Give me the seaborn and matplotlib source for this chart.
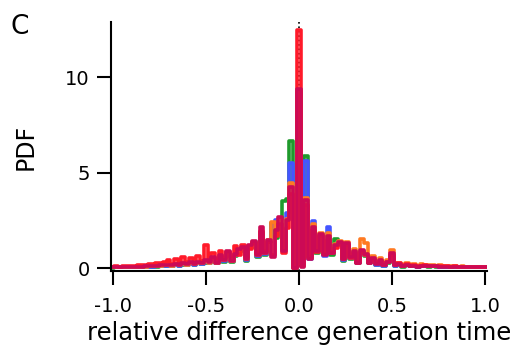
import numpy as np
import pandas as pd
import matplotlib
matplotlib.use("Agg")
import matplotlib.pyplot as plt
import seaborn as sns

# bin centres of the histogram (step 0.02)
bin_centers = np.round(np.arange(-1.0, 1.0001, 0.02), 2)

# PDF values, one list per curve (drawn bottom -> top)
pdf_green = [
    0.03, 0.04, 0.04, 0.05, 0.05, 0.05, 0.06, 0.06, 0.07, 0.07, 0.08, 0.08, 0.09, 0.10, 0.10,
    0.12, 0.10, 0.15, 0.12, 0.18, 0.15, 0.20, 0.15, 0.25, 0.20,
    0.30,
    0.25, 0.45, 0.25, 0.55, 0.35, 0.70, 0.35, 0.65, 0.85,
    0.95, 0.40, 1.05, 1.30, 0.60, 1.80, 0.70, 1.40, 2.35, 1.60,
    2.50, 3.50, 3.60, 6.65, 0.10,
    9.00,
    1.10, 5.90, 0.60, 2.20, 0.80, 1.70, 0.70, 1.60, 0.70, 1.55, 1.30, 0.40, 1.20,
    0.50, 0.85, 0.30, 0.85, 0.65, 0.25, 0.50, 0.15, 0.40, 0.12, 0.30, 0.55, 0.12,
    0.18, 0.08, 0.16, 0.10, 0.14, 0.08, 0.12, 0.11, 0.08,
    0.10, 0.09, 0.09, 0.08, 0.08, 0.07, 0.07, 0.06, 0.06, 0.06, 0.05, 0.05, 0.04, 0.04, 0.04,
]
pdf_blue = [
    0.04, 0.04, 0.05, 0.05, 0.05, 0.06, 0.06, 0.07, 0.07, 0.08, 0.08, 0.09, 0.10, 0.11, 0.12,
    0.14, 0.12, 0.17, 0.14, 0.20, 0.16, 0.24, 0.18, 0.28, 0.22,
    0.35,
    0.28, 0.50, 0.28, 0.60, 0.40, 0.80, 0.38, 0.70, 0.90,
    1.00, 0.45, 1.10, 1.35, 0.65, 1.90, 0.75, 1.45, 2.20, 2.50,
    2.60, 1.00, 2.90, 5.50, 0.00,
    9.20,
    0.30, 5.60, 0.50, 2.45, 0.90, 1.75, 0.65, 2.15, 0.80, 1.20, 1.35, 0.45, 1.25,
    0.55, 0.85, 0.25, 0.90, 0.70, 0.25, 0.50, 0.18, 0.40, 0.12, 0.32, 0.60, 0.12,
    0.20, 0.10, 0.18, 0.10, 0.14, 0.08, 0.12, 0.10, 0.10,
    0.10, 0.10, 0.09, 0.09, 0.08, 0.08, 0.07, 0.07, 0.06, 0.06, 0.05, 0.05, 0.05, 0.04, 0.04,
]
pdf_orange = [
    0.05, 0.05, 0.05, 0.06, 0.06, 0.07, 0.07, 0.08, 0.08, 0.09, 0.10, 0.10, 0.12, 0.13, 0.15,
    0.15, 0.14, 0.20, 0.16, 0.25, 0.18, 0.28, 0.20, 0.30, 0.25,
    0.40,
    0.30, 0.55, 0.30, 0.65, 0.45, 0.85, 0.40, 0.72, 0.95,
    1.05, 0.50, 1.15, 1.40, 0.70, 1.95, 0.80, 1.50, 2.40, 2.05,
    2.50, 1.00, 2.60, 4.45, 0.00,
    9.30,
    0.20, 3.67, 0.55, 2.30, 0.95, 1.85, 0.75, 1.85, 0.85, 1.25, 1.45, 0.55, 1.35,
    0.65, 1.00, 0.40, 1.55, 1.30, 0.40, 0.65, 0.30, 0.55, 0.25, 0.45, 0.95, 0.25,
    0.30, 0.15, 0.25, 0.15, 0.22, 0.12, 0.20, 0.18, 0.15,
    0.15, 0.12, 0.15, 0.12, 0.10, 0.12, 0.10, 0.08, 0.10, 0.08, 0.07, 0.08, 0.06, 0.06, 0.05,
]
pdf_red = [
    0.08, 0.10, 0.08, 0.10, 0.12, 0.10, 0.12, 0.15, 0.18, 0.15, 0.20, 0.22, 0.25, 0.30, 0.35,
    0.45, 0.20, 0.50, 0.30, 0.60, 0.35, 0.55, 0.25, 0.65, 0.40,
    1.20,
    0.45, 0.80, 0.50, 0.90, 0.55, 0.85, 0.60, 1.15, 0.70,
    1.20, 0.60, 1.00, 1.30, 0.80, 1.90, 0.90, 1.35, 0.70, 1.70,
    2.30, 0.80, 2.10, 3.90, 0.00,
    12.45,
    0.10, 3.30, 0.60, 2.00, 0.85, 1.70, 0.75, 1.50, 0.80, 1.05, 1.20, 0.50, 1.20,
    0.55, 0.80, 0.30, 0.85, 0.70, 0.30, 0.50, 0.25, 0.40, 0.15, 0.35, 0.70, 0.15,
    0.25, 0.12, 0.20, 0.12, 0.18, 0.10, 0.12, 0.15, 0.12,
    0.12, 0.10, 0.12, 0.10, 0.10, 0.08, 0.10, 0.08, 0.08, 0.07, 0.08, 0.06, 0.06, 0.05, 0.05,
]
pdf_crimson = [
    0.05, 0.05, 0.06, 0.06, 0.06, 0.07, 0.08, 0.08, 0.09, 0.10, 0.10, 0.12, 0.13, 0.15, 0.17,
    0.18, 0.15, 0.22, 0.18, 0.28, 0.20, 0.32, 0.22, 0.35, 0.28,
    0.45,
    0.35, 0.60, 0.30, 0.70, 0.45, 0.90, 0.40, 0.75, 1.00,
    1.10, 0.50, 1.20, 1.45, 0.70, 2.15, 0.80, 1.50, 0.60, 2.00,
    2.70, 0.90, 2.50, 4.25, 0.00,
    9.40,
    0.05, 3.55, 0.50, 2.15, 0.90, 1.80, 0.70, 1.70, 0.80, 1.20, 1.40, 0.50, 1.30,
    0.60, 0.90, 0.30, 0.95, 0.75, 0.30, 0.55, 0.20, 0.45, 0.15, 0.35, 0.80, 0.15,
    0.20, 0.10, 0.18, 0.10, 0.14, 0.08, 0.12, 0.10, 0.10,
    0.10, 0.10, 0.09, 0.09, 0.08, 0.08, 0.07, 0.07, 0.06, 0.06, 0.05, 0.05, 0.05, 0.04, 0.04,
]

series = [pdf_green, pdf_blue, pdf_orange, pdf_red, pdf_crimson]
colors = ["#1f9a2c", "#4455ff", "#ff7a22", "#ff1a2a", "#cc0a55"]

x_ticks = [-1.0, -0.5, 0.0, 0.5, 1.0]
x_tick_labels = ["-1.0", "-0.5", "0.0", "0.5", "1.0"]
y_ticks = [0, 5, 10]

sns.set_style("ticks")
plt.rcParams["font.family"] = ["DejaVu Sans"]
plt.rcParams.update({"text.color": "black", "axes.labelcolor": "black",
                     "xtick.color": "black", "ytick.color": "black",
                     "axes.edgecolor": "black"})

fig = plt.figure(figsize=(5.25, 3.53), dpi=100)
ax = fig.add_axes([0.211, 0.232, 0.716, 0.706])

ax.axvline(0, color="black", linestyle=":", linewidth=1.2, zorder=0)

for vals, col in zip(series, colors):
    df = pd.DataFrame({"center": bin_centers, "pdf": vals})
    sns.histplot(data=df, x="center", weights="pdf", binwidth=0.02,
                 binrange=(-1.01, 1.01), element="step", fill=False,
                 color=col, linewidth=2.6, ax=ax)

ax.set_xlim(-1.01, 1.01)
ax.set_ylim(-0.15, 12.9)
ax.set_xticks(x_ticks)
ax.set_xticklabels(x_tick_labels)
ax.set_yticks(y_ticks)
ax.set_xlabel("relative difference generation time", fontsize=17.5, labelpad=3)
ax.set_ylabel("PDF", fontsize=17, labelpad=20)
ax.tick_params(axis="both", labelsize=14, length=10, width=1.5, direction="out")
ax.tick_params(axis="x", pad=9)
ax.tick_params(axis="y", pad=5)
for s in ["left", "bottom"]:
    ax.spines[s].set_linewidth(1.5)
sns.despine(ax=ax)

fig.text(0.02, 0.96, "C", fontsize=19, va="top", ha="left")

fig.savefig("out.png", dpi=100)
